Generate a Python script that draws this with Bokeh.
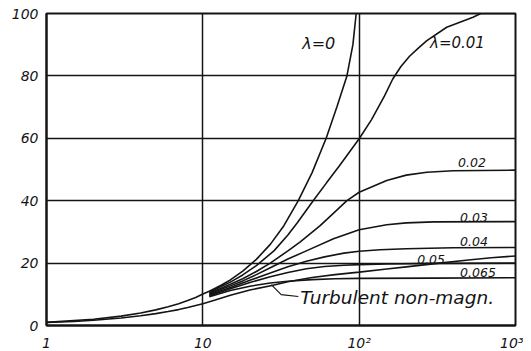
from bokeh.plotting import figure
from bokeh.models import Label, FixedTicker
from bokeh.embed import file_html
from bokeh.resources import INLINE

# ---- data ----
x_ticks = [1, 10, 100, 1000]
x_tick_labels = ["1", "10", "10²", "10³"]
y_ticks = [0, 20, 40, 60, 80, 100]
y_tick_labels = ["0", "20", "40", "60", "80", "100"]

lam_names = ["λ=0", "λ=0.01", "0.02", "0.03", "0.04", "0.05", "0.065"]

lam_sub_x = [1, 2, 3, 4, 5, 6, 7, 8, 9, 10, 11]
lam_sub_u = [1.0, 2.0, 3.0, 4.0, 5.0, 6.0, 7.0, 8.0, 9.0, 10.1, 11.0]

l0_x = [11, 13, 15, 18, 22, 27, 33, 40.8, 50, 61.5, 72, 83.5, 91.2, 95.7]
l0_u = [11.0, 12.8, 14.6, 17.4, 21.2, 26.0, 32.0, 40.0, 49.0, 60.0, 70.0, 80.0, 90.0, 100.0]

l001_x = [11, 13, 15, 18, 22, 28.6, 35, 40, 50.8, 62, 75, 100.5, 120, 145, 164, 185, 210, 240, 271, 363, 535, 600, 1000]
l001_u = [10.7, 12.4, 13.9, 16.2, 19.2, 24.0, 29.0, 32.8, 40.0, 45.8, 51.3, 60.0, 66.0, 73.5, 79.0, 83.0, 86.3, 89.0, 91.3, 95.6, 98.8, 100.0, 100.0]

l002_x = [11, 13, 15, 18, 22, 27, 35.2, 42, 56.3, 70, 83.5, 100, 150, 200, 271, 400, 1000]
l002_u = [10.4, 11.9, 13.2, 15.0, 17.3, 20.0, 24.0, 26.8, 32.0, 36.4, 40.0, 42.7, 46.5, 48.2, 49.1, 49.6, 49.8]

l003_x = [11, 13, 15, 18, 22, 27, 35, 46.3, 68.5, 100, 150, 200, 300, 1000]
l003_u = [10.1, 11.5, 12.7, 14.3, 16.3, 18.5, 21.3, 24.0, 27.8, 30.7, 32.3, 32.9, 33.2, 33.3]

l004_x = [11, 15, 20, 27, 35, 46, 60, 80, 100, 136, 200, 400, 1000]
l004_u = [9.8, 12.2, 14.5, 16.8, 18.8, 20.6, 22.0, 23.2, 23.8, 24.3, 24.6, 24.9, 25.0]

l005_x = [11, 15, 20, 27, 35, 46, 60, 80, 100, 150, 300, 1000]
l005_u = [9.5, 11.8, 13.8, 15.6, 17.0, 18.2, 18.9, 19.3, 19.5, 19.7, 19.9, 20.0]

l0065_x = [11, 15, 20, 27, 35, 50, 70, 100, 300, 1000]
l0065_u = [9.2, 11.2, 12.6, 13.6, 14.2, 14.7, 15.0, 15.1, 15.2, 15.3]

turb_x = [1, 1.5, 2, 3, 4, 5, 6, 7, 8, 10, 12, 15, 20, 27.7, 35, 50, 70, 100, 150, 200, 326, 500, 700, 1000]
turb_u = [1.0, 1.3, 1.7, 2.4, 3.1, 3.8, 4.5, 5.1, 5.8, 7.0, 8.2, 9.7, 11.4, 12.8, 14.0, 15.4, 16.3, 17.1, 18.1, 18.8, 20.0, 21.0, 21.7, 22.3]

turb_name = "Turbulent non-magn."

FONT = "DejaVu Sans"
INK = "#141414"

p = figure(
    x_axis_type="log", x_range=(1, 1000), y_range=(0, 100),
    frame_width=469, frame_height=312,
    min_border_left=46, min_border_right=8, min_border_top=13, min_border_bottom=26,
    output_backend="svg", toolbar_location=None,
)
p.background_fill_color = "white"
p.border_fill_color = "white"
p.outline_line_color = INK
p.outline_line_width = 2

for ax in (p.xaxis[0], p.yaxis[0]):
    ax.axis_line_color = INK
    ax.axis_line_width = 2
    ax.major_tick_line_color = None
    ax.minor_tick_line_color = None
    ax.major_label_text_font = FONT
    ax.major_label_text_font_style = "italic"
    ax.major_label_text_font_size = "14px"
    ax.major_label_text_color = INK

p.xaxis.ticker = FixedTicker(ticks=x_ticks, minor_ticks=[])
p.xaxis.major_label_overrides = {t: s for t, s in zip(x_ticks, x_tick_labels)}
p.xaxis.major_label_standoff = 3
p.yaxis.ticker = FixedTicker(ticks=y_ticks, minor_ticks=[])
p.yaxis.major_label_overrides = {t: s for t, s in zip(y_ticks, y_tick_labels)}
p.yaxis.major_label_standoff = 2

p.xgrid.ticker = FixedTicker(ticks=[10, 100])
p.ygrid.ticker = FixedTicker(ticks=[20, 40, 60, 80])
for g in (p.xgrid[0], p.ygrid[0]):
    g.grid_line_color = INK
    g.grid_line_width = 1.5
    g.grid_line_alpha = 1.0

curves = [
    (lam_sub_x, lam_sub_u),
    (l0_x, l0_u), (l001_x, l001_u), (l002_x, l002_u), (l003_x, l003_u),
    (l004_x, l004_u), (l005_x, l005_u), (l0065_x, l0065_u),
    (turb_x, turb_u),
]
for xs, us in curves:
    p.line(xs, us, line_color=INK, line_width=1.6)

# leader from turbulent label to its curve
p.line([27.4, 31.7, 40.8], [13.1, 9.9, 9.3], line_color=INK, line_width=1.2)

label_pos = [
    (43.2, 90.4, 16), (284, 90.4, 15), (429, 52.2, 12.5), (442, 34.6, 12.5),
    (442, 26.9, 12.5), (235, 21.3, 12.5), (442, 17.0, 12.5),
]
for name, (lx, ly, fs) in zip(lam_names, label_pos):
    p.add_layout(Label(x=lx, y=ly, text=name, text_font=FONT, text_font_style="italic",
                       text_font_size=f"{fs}px", text_align="left", text_baseline="middle",
                       text_color=INK))

p.add_layout(Label(x=42, y=9.0, text=turb_name, text_font=FONT, text_font_style="italic",
                   text_font_size="18.5px", text_align="left", text_baseline="middle",
                   text_color=INK))

p.add_layout(Label(x=0.72, y=50.6, text="u⁺", text_font=FONT, text_font_style="italic",
                   text_font_size="17px", text_align="center", text_baseline="middle",
                   text_color=INK))
p.add_layout(Label(x=32.2, y=-4.0, text="y⁺", text_font=FONT, text_font_style="italic",
                   text_font_size="17px", text_align="center", text_baseline="middle",
                   text_color=INK))

open("out.html", "w").write(file_html(p, INLINE))
